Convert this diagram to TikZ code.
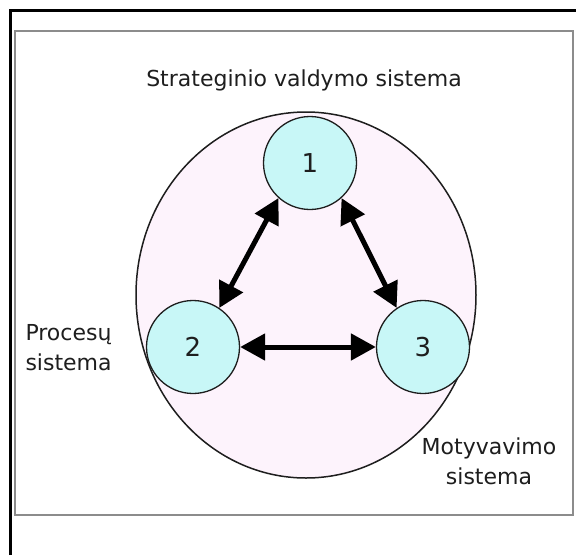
\documentclass[tikz,border=0pt]{standalone}
\usepackage{fontspec}
\setmainfont{DejaVu Sans}
\usetikzlibrary{arrows.meta}
\definecolor{bubble}{HTML}{C8F7F7}
\definecolor{field}{HTML}{FDF3FC}
\definecolor{frameline}{HTML}{8C8C8C}
\definecolor{ink}{HTML}{1E1E1E}
\tikzset{
  sys/.style={circle, draw=ink, line width=1.3pt, fill=bubble, minimum size=93pt, inner sep=0pt,
    font=\fontsize{26}{30}\selectfont, text=ink},
  label text/.style={font=\fontsize{22}{30}\selectfont, text=ink},
  link/.style={line width=5pt, {Triangle[length=25pt,width=26pt]}-{Triangle[length=25pt,width=26pt]}}
}
\begin{document}
\begin{tikzpicture}[x=1pt,y=-1pt]
\useasboundingbox (0,0) rectangle (576,555);
\fill[white] (0,0) rectangle (576,555);
% outer frame
\draw[line width=3pt, black] (10,555) -- (10,10) -- (576,10);
% inner panel
\draw[line width=2pt, frameline, fill=white] (15,31) rectangle (573,515);
% enclosing system
\draw[line width=1.5pt, ink, fill=field] (306,295) ellipse [x radius=170, y radius=183];
% subsystems
\node[sys] (n1) at (310,163) {1};
\node[sys] (n2) at (193,347) {2};
\node[sys] (n3) at (423,347) {3};
% links
\draw[link] (n1.228) -- (n2.56);
\draw[link] (n1.312) -- (n3.124);
\draw[link] (n2.east) -- (n3.west);
% labels
\node[label text] (t1) at (304,80) {Strateginio valdymo sistema};
\node[label text, align=left, anchor=west] (t2) at (22,348) {Procesų\\sistema};
\node[label text, align=center] (t3) at (489,461) {Motyvavimo\\sistema};
\end{tikzpicture}
\end{document}
